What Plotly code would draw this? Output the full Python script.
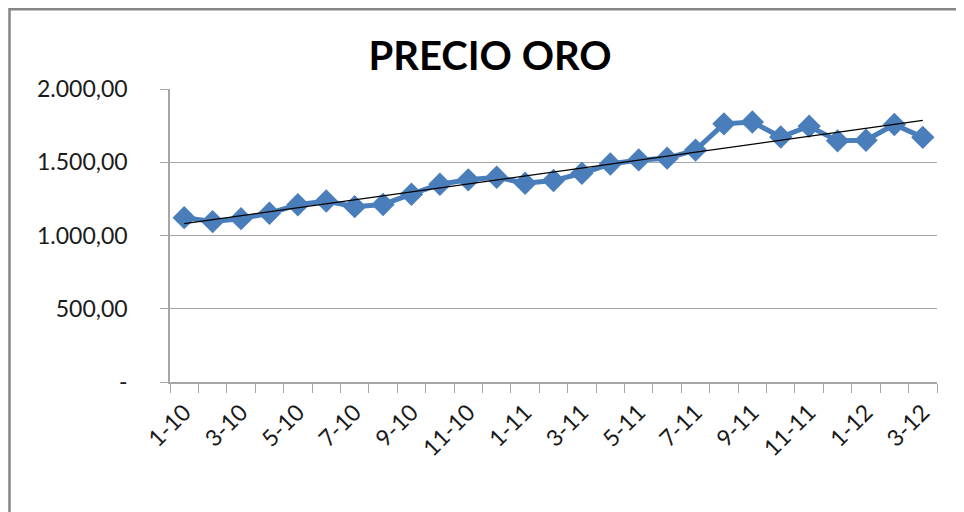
import numpy as np
import plotly.graph_objects as go

# ---- data ----
months = ["1-10", "2-10", "3-10", "4-10", "5-10", "6-10", "7-10", "8-10", "9-10", "10-10",
          "11-10", "12-10", "1-11", "2-11", "3-11", "4-11", "5-11", "6-11", "7-11", "8-11",
          "9-11", "10-11", "11-11", "12-11", "1-12", "2-12", "3-12"]
precio = [1122, 1095, 1115, 1152, 1210, 1236, 1197, 1212, 1282, 1350,
          1380, 1398, 1357, 1375, 1425, 1488, 1516, 1528, 1583, 1762,
          1775, 1672, 1746, 1646, 1650, 1758, 1670]
y_tick_vals = [0, 500, 1000, 1500, 2000]
y_tick_text = ["-", "500,00", "1.000,00", "1.500,00", "2.000,00"]

x_idx = np.arange(len(months))
slope, intercept = np.polyfit(x_idx, precio, 1)
trend = slope * x_idx + intercept

BLUE = "#4A7EBB"
GRID = "#A6A6A6"
FONT = "Lato"

# page body has an 8px margin: plot area should sit at x 170..937, y 89..382 in the window
L, T, PW, PH = 162, 81, 767, 293

fig = go.Figure()
fig.add_trace(go.Scatter(
    x=x_idx, y=precio, mode="lines+markers",
    line=dict(color=BLUE, width=5),
    marker=dict(symbol="diamond", size=18, color=BLUE),
    name="PRECIO ORO", showlegend=False,
))
fig.add_trace(go.Scatter(
    x=[x_idx[0], x_idx[-1]], y=[trend[0], trend[-1]], mode="lines",
    line=dict(color="#000000", width=1.3),
    showlegend=False,
))

fig.update_layout(
    width=964, height=512,
    margin=dict(l=L, r=964 - L - PW, t=T, b=512 - T - PH),
    paper_bgcolor="white", plot_bgcolor="white",
    font=dict(family=FONT, color="#1a1a1a", size=23),
    title=dict(text="<b>PRECIO ORO</b>", x=482 / 964, xanchor="center",
               y=1 - 48 / 512, yanchor="middle",
               font=dict(family=FONT, size=40, color="#000000")),
    xaxis=dict(
        range=[-0.5, len(months) - 0.5],
        tickmode="array", tickvals=list(x_idx[::2]), ticktext=months[::2],
        tickangle=-45, ticks="", showgrid=False, zeroline=False,
        showline=True, linecolor=GRID, linewidth=1.5,
        tickfont=dict(size=23), ticklabelstandoff=6,
        minor=dict(ticks="outside", ticklen=9, tickcolor=GRID, tickwidth=1.3,
                   tick0=-0.5, dtick=1, showgrid=False),
    ),
    yaxis=dict(
        range=[0, 2000], tickmode="array", tickvals=y_tick_vals, ticktext=y_tick_text,
        ticks="outside", ticklen=8, tickcolor=GRID, tickwidth=1.3,
        showgrid=True, gridcolor=GRID, gridwidth=1.3, zeroline=False,
        showline=True, linecolor=GRID, linewidth=1.5,
        tickfont=dict(size=23), ticklabelstandoff=28,
    ),
    shapes=[dict(type="rect", xref="paper", yref="paper",
                 x0=(1.5 - L) / PW, x1=1.2, y0=-1.0, y1=(T - 1.2) / PH + 1,
                 line=dict(color="#868686", width=2.5), layer="below")],
)

fig.write_html("out.html")
